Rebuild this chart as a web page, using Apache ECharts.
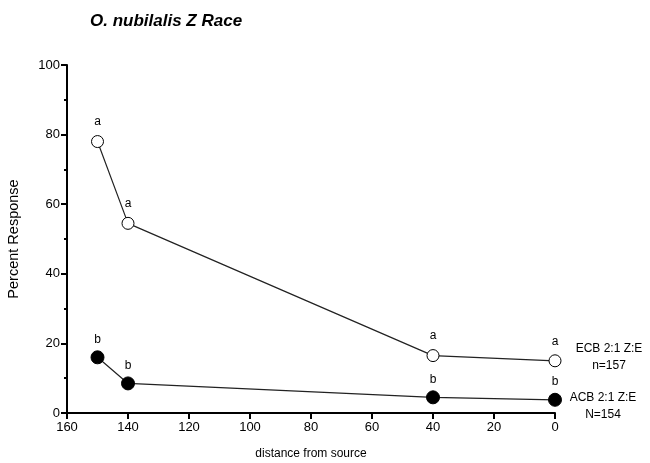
<!DOCTYPE html>
<html><head><meta charset="utf-8">
<script src="https://cdn.jsdelivr.net/npm/echarts@6/dist/echarts.min.js"></script>
<style>html,body{margin:0;padding:0;background:#fff}#c{width:650px;height:463px}</style>
</head><body><div id="c"></div>
<script>
var distances = [150, 140, 40, 0];
var ecbValues = [78, 54.5, 16.5, 15];
var acbValues = [16, 8.5, 4.5, 3.8];
var ecbLetters = ['a', 'a', 'a', 'a'];
var acbLetters = ['b', 'b', 'b', 'b'];
var ecbName = 'ECB 2:1 Z:E\nn=157';
var acbName = 'ACB 2:1 Z:E\nN=154';
var titleText = 'O. nubilalis Z Race';

function pairs(xs, ys) { return xs.map(function (x, i) { return [x, ys[i]]; }); }
function lastCoord(xs, ys) { var n = xs.length - 1; return [xs[n], ys[n]]; }
var font = 'Liberation Sans, Arial, sans-serif';
var chart = echarts.init(document.getElementById('c'));
function nameMark(xs, ys, text, off) {
  return {
    symbol: 'circle', symbolSize: 0, silent: true, animation: false,
    label: { show: true, position: 'inside', offset: off, formatter: text,
      fontFamily: font, fontSize: 12, color: '#000', align: 'center', verticalAlign: 'middle', lineHeight: 17 },
    data: [{ coord: lastCoord(xs, ys) }]
  };
}
chart.setOption({
  animation: false,
  title: { text: titleText, left: 85, top: 8,
    textStyle: { fontFamily: font, fontSize: 17, fontWeight: 'bold', fontStyle: 'italic', color: '#000' } },
  grid: { left: 67, right: 95, top: 65, bottom: 50, containLabel: false, outerBoundsMode: 'none' },
  xAxis: {
    type: 'value', inverse: true, min: 0, max: 160, interval: 20,
    name: 'distance from source', nameLocation: 'middle', nameGap: 35,
    nameTextStyle: { fontFamily: font, fontSize: 12, color: '#000' },
    axisLine: { onZero: false, lineStyle: { color: '#000', width: 2 } },
    axisTick: { lineStyle: { color: '#000', width: 2 }, length: 6 },
    axisLabel: { fontFamily: font, fontSize: 13, color: '#000', margin: 8 },
    splitLine: { show: false }
  },
  yAxis: {
    type: 'value', position: 'left', min: 0, max: 100, interval: 20,
    name: 'Percent Response', nameLocation: 'middle', nameGap: 46,
    nameTextStyle: { fontFamily: font, fontSize: 14.5, color: '#000' },
    axisLine: { show: true, onZero: false, lineStyle: { color: '#000', width: 2 } },
    axisTick: { show: true, lineStyle: { color: '#000', width: 2 }, length: 6 },
    minorTick: { show: true, splitNumber: 2, length: 3, lineStyle: { color: '#000', width: 2 } },
    axisLabel: { fontFamily: font, fontSize: 13, color: '#000', margin: 7 },
    splitLine: { show: false }
  },
  series: [
    {
      type: 'line', data: pairs(distances, ecbValues),
      symbol: 'circle', symbolSize: 12, z: 3,
      itemStyle: { color: '#fff', borderColor: '#000', borderWidth: 1 },
      lineStyle: { color: '#222', width: 1.2 },
      label: { show: true, position: 'top', distance: 7, fontFamily: font, fontSize: 12, color: '#000',
        formatter: function (p) { return ecbLetters[p.dataIndex]; } },
      markPoint: nameMark(distances, ecbValues, ecbName, [54, -4])
    },
    {
      type: 'line', data: pairs(distances, acbValues),
      symbol: 'circle', symbolSize: 13, z: 3,
      itemStyle: { color: '#000', borderColor: '#000', borderWidth: 1 },
      lineStyle: { color: '#222', width: 1.2 },
      label: { show: true, position: 'top', distance: 5, fontFamily: font, fontSize: 12, color: '#000',
        formatter: function (p) { return acbLetters[p.dataIndex]; } },
      markPoint: nameMark(distances, acbValues, acbName, [48, 6])
    }
  ]
});
</script></body></html>
